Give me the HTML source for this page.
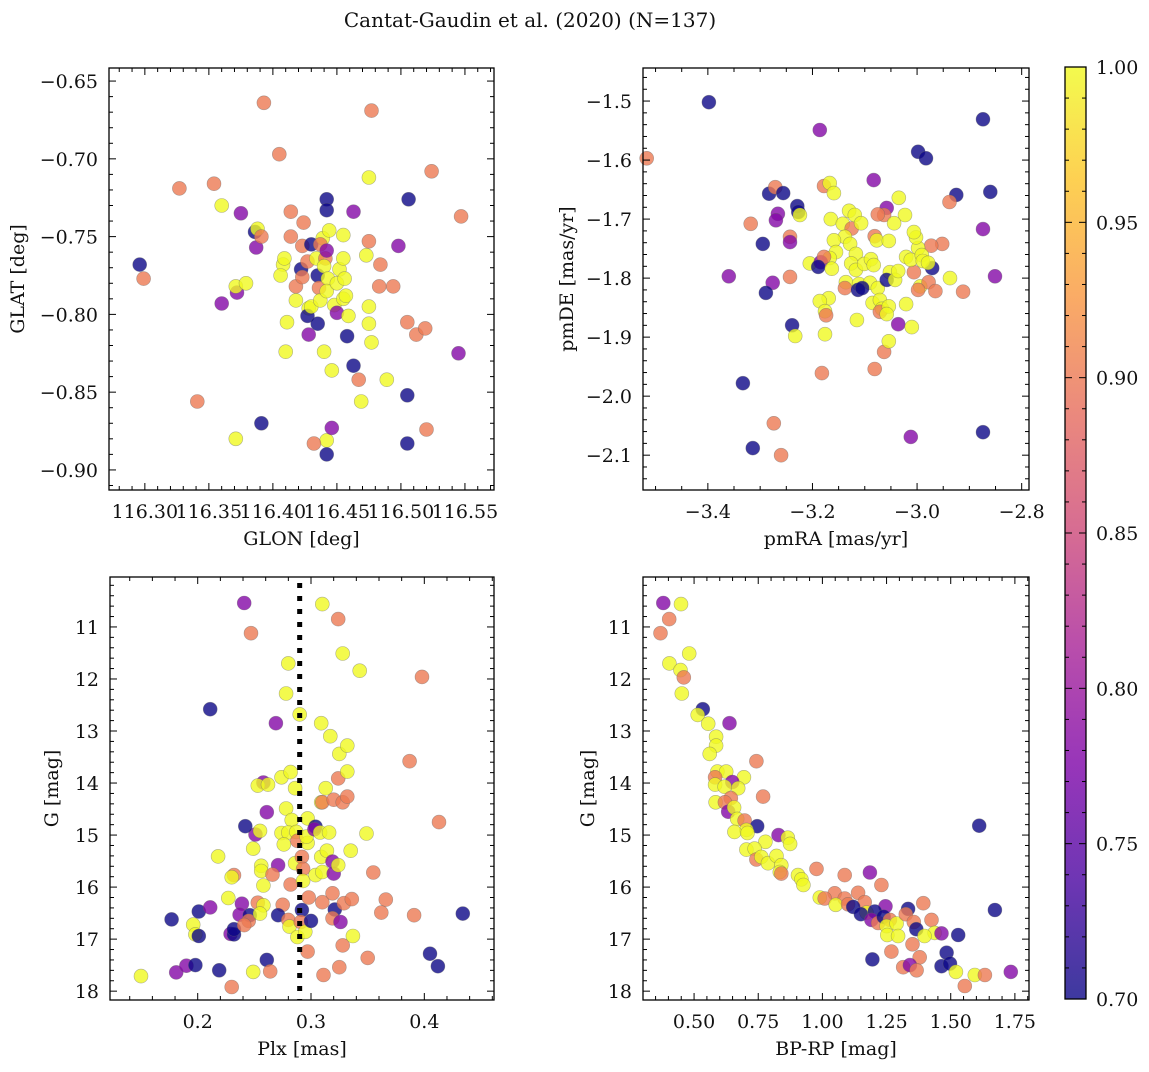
<!DOCTYPE html>
<html><head><meta charset="utf-8">
<style>
html,body{margin:0;padding:0;background:#fff;}
svg text{font-family:"DejaVu Serif","Liberation Serif",serif;fill:#111;}
</style></head>
<body>
<svg id="fig" xmlns="http://www.w3.org/2000/svg" width="1149" height="1067" viewBox="0 0 1149 1067">
<defs>
<linearGradient id="cbgrad" x1="0" y1="1" x2="0" y2="0">
<stop offset="0" stop-color="#0d0887"/><stop offset="0.13" stop-color="#4b03a1"/><stop offset="0.25" stop-color="#7d03a8"/><stop offset="0.38" stop-color="#a82296"/><stop offset="0.5" stop-color="#cc4778"/><stop offset="0.63" stop-color="#e66c5c"/><stop offset="0.75" stop-color="#f89540"/><stop offset="0.88" stop-color="#fdc527"/><stop offset="1" stop-color="#f0f921"/>
</linearGradient>
</defs>
<text x="530" y="27" font-size="20" text-anchor="middle">Cantat-Gaudin et al. (2020) (N=137)</text>
</svg>
<script>
// ---- Panel 1: GLON vs GLAT ----
const glon1 = [116.296,116.299,116.327,116.354,116.341,116.360,116.360,116.375,116.372,116.371,
116.379,116.371,116.391,116.393,116.405,116.386,116.388,116.387,116.391,116.408,
116.406,116.409,116.414,116.414,116.418,116.422,116.418,116.411,116.410,116.424,
116.423,116.430,116.427,116.423,116.428,116.427,116.430,116.428,116.435,116.435,
116.436,116.437,116.434,116.439,116.437,116.442,116.442,116.444,116.441,116.442,
116.440,116.443,116.442,116.440,116.442,116.432,116.442,116.446,116.446,116.448,
116.450,116.452,116.450,116.455,116.455,116.455,116.456,116.457,116.459,116.458,
116.463,116.463,116.467,116.469,116.473,116.475,116.475,116.475,116.477,116.475,
116.477,116.484,116.483,116.489,116.494,116.498,116.506,116.505,116.512,116.519,
116.505,116.505,116.520,116.524,116.545,116.547];
const glat1 = [-0.768,-0.777,-0.719,-0.716,-0.856,-0.730,-0.793,-0.735,-0.786,-0.782,
-0.780,-0.880,-0.870,-0.664,-0.697,-0.747,-0.745,-0.757,-0.750,-0.768,
-0.775,-0.764,-0.734,-0.750,-0.782,-0.771,-0.791,-0.805,-0.824,-0.741,
-0.756,-0.755,-0.766,-0.776,-0.796,-0.801,-0.795,-0.813,-0.806,-0.775,
-0.783,-0.791,-0.764,-0.751,-0.755,-0.726,-0.733,-0.746,-0.764,-0.759,
-0.769,-0.777,-0.785,-0.824,-0.881,-0.883,-0.890,-0.873,-0.836,-0.794,
-0.780,-0.771,-0.799,-0.790,-0.749,-0.764,-0.777,-0.788,-0.801,-0.814,
-0.833,-0.734,-0.842,-0.856,-0.762,-0.753,-0.795,-0.806,-0.818,-0.712,
-0.669,-0.768,-0.782,-0.842,-0.782,-0.756,-0.726,-0.805,-0.813,-0.809,
-0.852,-0.883,-0.874,-0.708,-0.825,-0.737];
const prob1 = [0.7,0.9,0.9,0.9,0.9,1,0.78,0.78,0.78,1,
1,1,0.7,0.9,0.9,0.7,1,0.78,0.9,1,
1,1,0.9,0.9,0.9,0.7,1,1,1,0.9,
0.9,0.7,0.9,0.9,1,0.7,1,0.78,0.7,0.7,
0.9,1,1,1,0.9,0.7,0.7,1,0.9,0.78,
1,1,1,1,1,0.9,0.7,0.78,1,1,
1,1,0.78,1,1,1,1,1,1,0.7,
0.7,0.78,0.9,1,1,0.9,1,1,1,1,
0.9,0.9,0.9,1,0.9,0.78,0.7,0.9,0.9,0.9,
0.7,0.7,0.9,0.9,0.78,0.9];

// ---- Panel 2: pmRA vs pmDE ----
const pmra2 = [-3.398,-3.517,-3.186,-2.874,-2.860,-2.998,-2.983,-3.083,-2.925,-3.283,
-3.271,-3.256,-3.318,-3.266,-3.270,-3.229,-3.227,-3.224,-3.295,-3.243,
-3.243,-3.360,-3.276,-3.289,-3.243,-3.239,-3.233,-3.333,-3.314,-3.274,
-3.260,-3.178,-3.167,-3.159,-3.165,-3.142,-3.125,-3.130,-3.119,-3.107,
-3.138,-3.128,-3.159,-3.155,-3.167,-3.205,-3.184,-3.178,-3.189,-3.163,
-3.117,-3.126,-3.117,-3.101,-3.088,-3.083,-3.136,-3.138,-3.111,-3.090,
-3.113,-3.105,-3.075,-3.169,-3.186,-3.176,-3.174,-3.115,-3.085,-3.071,
-3.067,-3.071,-3.054,-3.058,-3.021,-3.052,-3.058,-3.042,-3.036,-3.006,
-2.971,-2.994,-2.978,-2.998,-2.965,-2.912,-2.937,-2.952,-2.938,-2.973,
-2.998,-3.002,-3.021,-3.012,-2.991,-2.989,-2.979,-3.058,-3.035,-3.023,
-3.063,-3.075,-3.081,-3.077,-3.054,-3.044,-3.006,-2.874,-2.851,-2.874,
-3.081,-3.063,-3.054,-3.036,-3.010,-3.012,-3.182,-3.176];
const pmde2 = [-1.502,-1.597,-1.549,-1.531,-1.654,-1.586,-1.597,-1.634,-1.659,-1.657,
-1.646,-1.656,-1.708,-1.691,-1.702,-1.678,-1.688,-1.693,-1.742,-1.730,
-1.739,-1.797,-1.808,-1.825,-1.798,-1.880,-1.898,-1.978,-2.088,-2.046,
-2.100,-1.644,-1.639,-1.656,-1.700,-1.708,-1.716,-1.686,-1.693,-1.707,
-1.730,-1.742,-1.736,-1.756,-1.766,-1.775,-1.773,-1.764,-1.781,-1.784,
-1.759,-1.775,-1.786,-1.776,-1.768,-1.778,-1.807,-1.817,-1.810,-1.808,
-1.820,-1.817,-1.817,-1.834,-1.839,-1.856,-1.863,-1.871,-1.842,-1.837,
-1.852,-1.857,-1.848,-1.861,-1.844,-1.790,-1.803,-1.803,-1.788,-1.790,
-1.783,-1.814,-1.807,-1.820,-1.822,-1.823,-1.800,-1.742,-1.671,-1.745,
-1.749,-1.731,-1.764,-1.769,-1.761,-1.771,-1.774,-1.681,-1.664,-1.693,
-1.693,-1.692,-1.729,-1.736,-1.737,-1.707,-1.722,-1.717,-1.797,-2.061,
-1.954,-1.925,-1.907,-1.878,-1.883,-2.069,-1.961,-1.895];
const prob2 = [0.7,0.9,0.78,0.7,0.7,0.7,0.7,0.78,0.7,0.7,
0.9,0.7,0.9,0.78,0.78,0.7,0.7,1,0.7,0.9,
0.78,0.78,0.78,0.7,0.9,0.7,1,0.7,0.7,0.9,
0.9,0.9,1,1,1,1,0.9,1,1,1,
1,1,1,1,1,1,0.78,0.9,0.7,1,
1,1,1,1,1,1,1,0.9,1,1,
0.7,0.7,1,1,1,1,0.9,1,1,1,
1,0.9,1,1,1,1,0.7,1,1,0.9,
0.7,1,0.9,0.9,0.9,0.9,1,0.9,0.9,0.9,
1,1,1,1,1,1,1,0.78,1,1,
0.9,0.9,0.9,1,1,1,1,0.78,0.78,0.7,
0.9,0.9,1,0.78,1,0.78,0.9,1];

// ---- Panel 3: Plx vs G ----
const plx3 = [0.150,0.181,0.190,0.198,0.177,0.201,0.211,0.196,0.198,0.201,
0.218,0.211,0.241,0.247,0.219,0.227,0.230,0.232,0.230,0.229,
0.232,0.232,0.239,0.237,0.246,0.245,0.241,0.249,0.249,0.251,
0.255,0.242,0.253,0.258,0.255,0.258,0.253,0.262,0.261,0.256,
0.256,0.258,0.261,0.264,0.269,0.271,0.266,0.275,0.271,0.274,
0.282,0.280,0.278,0.286,0.278,0.283,0.274,0.280,0.287,0.276,
0.288,0.282,0.286,0.280,0.281,0.288,0.290,0.292,0.293,0.293,
0.292,0.291,0.295,0.297,0.297,0.296,0.300,0.298,0.297,0.304,
0.303,0.304,0.310,0.309,0.309,0.310,0.308,0.309,0.310,0.310,
0.311,0.317,0.313,0.316,0.314,0.319,0.320,0.324,0.319,0.320,
0.328,0.332,0.324,0.325,0.332,0.332,0.324,0.328,0.343,0.321,
0.319,0.326,0.329,0.336,0.335,0.349,0.328,0.337,0.325,0.350,
0.355,0.366,0.362,0.391,0.387,0.398,0.413,0.434,0.405,0.412];
const g3 = [17.71,17.64,17.51,17.50,16.62,16.47,16.39,16.72,16.91,16.94,
15.41,12.58,10.54,11.12,17.60,16.21,17.92,15.77,15.81,16.90,
16.91,16.81,16.32,16.53,16.54,16.65,16.73,17.63,15.26,14.99,
14.92,14.83,16.30,16.35,16.51,13.99,14.05,14.03,14.56,15.59,
15.69,15.97,17.40,17.62,12.85,15.58,15.76,16.34,16.54,13.89,
13.79,11.70,12.28,14.10,14.49,14.71,14.96,14.95,14.94,15.18,
15.11,15.95,15.54,16.63,16.76,16.96,12.68,15.42,15.65,15.88,
16.44,16.67,16.86,14.68,15.15,15.03,16.65,16.20,17.24,14.84,
14.89,15.77,10.56,12.85,14.37,14.37,14.95,15.42,15.71,16.29,
17.69,13.10,14.10,14.95,15.30,15.51,15.74,15.58,16.12,14.32,
14.37,14.26,13.91,13.44,13.28,13.78,10.85,11.51,11.84,16.43,
16.60,16.67,16.31,16.23,15.30,14.97,17.12,16.94,17.54,17.36,
15.72,16.24,16.49,16.54,13.58,11.96,14.75,16.51,17.28,17.52];
const prob3 = [1,0.78,0.78,0.7,0.7,0.7,0.78,1,1,0.7,
1,0.7,0.78,0.9,0.7,1,0.9,0.9,1,0.78,
0.7,0.7,0.78,0.78,0.7,0.9,0.9,1,1,0.78,
1,0.7,0.9,1,1,0.78,1,1,0.78,1,
1,1,0.7,0.9,0.78,0.78,0.9,0.9,0.7,1,
1,1,1,1,1,1,1,1,1,1,
0.9,0.9,1,0.9,1,1,1,0.9,0.9,1,
0.7,0.9,1,1,1,1,0.7,0.9,0.9,0.7,
0.78,1,1,1,1,0.9,1,1,1,0.9,
0.9,1,1,1,1,0.78,0.78,1,0.9,0.9,
0.9,0.9,0.9,1,1,1,0.9,1,1,0.7,
0.9,0.78,0.9,0.9,1,1,0.9,1,0.9,0.9,
0.9,0.9,0.9,0.9,0.9,0.9,0.9,0.7,0.7,0.7];
const plxLine = 0.29;

// ---- Panel 4: BP-RP vs G ----
const bprp4 = [0.380,0.449,0.403,0.369,0.481,0.404,0.447,0.460,0.452,0.534,
0.514,0.555,0.638,0.586,0.586,0.561,0.743,0.591,0.625,0.582,
0.694,0.649,0.582,0.619,0.672,0.769,0.643,0.584,0.620,0.633,
0.656,0.668,0.697,0.746,0.704,0.657,0.708,0.829,0.865,0.874,
0.778,0.704,0.736,0.743,0.762,0.788,0.821,0.840,0.834,0.840,
0.905,0.918,0.926,0.977,1.087,1.185,1.230,1.139,1.048,0.990,
1.009,1.087,1.165,1.052,1.100,1.120,1.393,1.246,1.172,1.150,
1.204,1.191,1.217,1.239,1.263,1.250,1.289,1.253,1.295,1.334,
1.325,1.356,1.366,1.425,1.437,1.398,1.464,1.529,1.672,1.611,
1.351,1.269,1.379,1.195,1.484,1.464,1.497,1.315,1.341,1.367,
1.520,1.594,1.633,1.555,1.734];
const g4 = [10.54,10.56,10.85,11.12,11.51,11.70,11.83,11.97,12.28,12.58,
12.69,12.86,12.85,13.11,13.28,13.44,13.58,13.78,13.78,13.89,
13.89,13.98,14.03,14.07,14.10,14.26,14.29,14.37,14.37,14.55,
14.47,14.69,14.72,14.83,14.90,14.94,14.96,15.00,15.05,15.17,
15.13,15.28,15.26,15.47,15.42,15.54,15.40,15.58,15.71,15.74,
15.77,15.85,15.96,15.65,15.77,15.72,15.96,16.11,16.12,16.20,
16.22,16.22,16.29,16.34,16.33,16.38,16.31,16.37,16.49,16.52,
16.47,16.63,16.69,16.57,16.63,16.75,16.70,16.92,16.94,16.42,
16.52,16.67,16.81,16.63,16.88,16.94,16.89,16.92,16.44,14.82,
17.10,17.24,17.35,17.39,17.26,17.52,17.47,17.54,17.50,17.60,
17.63,17.69,17.69,17.90,17.63];
const prob4 = [0.78,1,0.9,0.9,1,1,1,0.9,1,0.7,
1,1,0.78,1,1,1,0.9,1,1,0.9,
1,0.78,1,1,1,0.9,0.9,1,0.9,0.78,
1,1,0.9,0.7,1,1,1,0.78,1,1,
1,1,1,0.9,1,1,1,1,1,0.9,
1,1,1,0.9,0.9,0.78,0.9,0.9,0.9,1,
0.9,0.9,0.9,1,0.9,0.7,0.9,0.78,1,0.7,
0.7,0.78,0.9,0.7,0.9,1,1,1,1,0.7,
0.9,0.9,0.7,0.9,1,1,0.78,0.7,0.7,0.7,
0.9,0.9,0.9,0.7,0.7,0.7,0.7,0.9,0.78,0.9,
1,1,0.9,0.9,0.78];

// ---- Colorbar ----
const cbMin = 0.70, cbMax = 1.00;
const cbTicks = [0.70,0.75,0.80,0.85,0.90,0.95,1.00];

const NS = "http://www.w3.org/2000/svg";
const svg = document.getElementById('fig');
function el(tag, attrs, parent){
  const e = document.createElementNS(NS, tag);
  for (const k in attrs) e.setAttribute(k, attrs[k]);
  (parent||svg).appendChild(e);
  return e;
}
const stops = [[0,[13,8,135]],[0.13,[75,3,161]],[0.25,[125,3,168]],[0.38,[168,34,150]],[0.5,[204,71,120]],[0.63,[230,108,92]],[0.75,[248,149,64]],[0.88,[253,197,39]],[1,[240,249,33]]];
function plasma(v){
  let t = (v-cbMin)/(cbMax-cbMin); t=Math.max(0,Math.min(1,t));
  for (let i=1;i<stops.length;i++){
    if (t<=stops[i][0]){
      const a=stops[i-1], b=stops[i], f=(t-a[0])/(b[0]-a[0]);
      const c=a[1].map((x,j)=>Math.round(x+(b[1][j]-x)*f));
      return `rgb(${c[0]},${c[1]},${c[2]})`;
    }
  }
  return 'rgb(240,249,33)';
}
function fmt(v, dec){ const s = Math.abs(v).toFixed(dec); return (v < -1e-9 ? '\u2212' : '') + s; }

const FS = 19;
function panel(cfg){
  const g = el('g', {});
  
  
  const sx = v => cfg.x0 + (v-cfg.xmin)/(cfg.xmax-cfg.xmin)*(cfg.x1-cfg.x0);
  const sy = cfg.invert
    ? v => cfg.y0 + (v-cfg.ymin)/(cfg.ymax-cfg.ymin)*(cfg.y1-cfg.y0)
    : v => cfg.y1 - (v-cfg.ymin)/(cfg.ymax-cfg.ymin)*(cfg.y1-cfg.y0);
  const pts = el('g', {}, g);
  
  
  for (let i=0;i<cfg.xs.length;i++){
    const c = el('circle', {cx:sx(cfg.xs[i]).toFixed(1), cy:sy(cfg.ys[i]).toFixed(1), r:7, fill:plasma(cfg.ps[i]), 'fill-opacity':0.8, stroke:'#666', 'stroke-opacity':0.5, 'stroke-width':0.6}, pts);
    
    
  }
  if (cfg.vline !== undefined){
    const l = el('line', {x1:sx(cfg.vline), x2:sx(cfg.vline), y1:cfg.y0+6, y2:cfg.y1, stroke:'#000', 'stroke-width':5, 'stroke-dasharray':'5,8'}, g);
    
    
  }
  const frame = el('rect', {x:cfg.x0, y:cfg.y0, width:cfg.x1-cfg.x0, height:cfg.y1-cfg.y0, fill:'none', stroke:'#000', 'stroke-width':1.3}, g);
  
  
  const tk = el('g', {stroke:'#000', 'stroke-width':1}, g);
  
  
  const eps=1e-9;
  const xs0 = Math.ceil(cfg.xmin/cfg.xminor - eps);
  for (let k=xs0; k*cfg.xminor<=cfg.xmax+eps; k++){
    const v=k*cfg.xminor, X=sx(v);
    const major = Math.abs(v/cfg.xmajor - Math.round(v/cfg.xmajor))<1e-6;
    const L = major?7:4;
    el('line',{x1:X,x2:X,y1:cfg.y1,y2:cfg.y1-L},tk);
    el('line',{x1:X,x2:X,y1:cfg.y0,y2:cfg.y0+L},tk);
    if (major){
      const t = el('text',{x:X,y:cfg.y1+28,'font-size':FS,'text-anchor':'middle',stroke:'none'},g);
      t.textContent = fmt(v,cfg.xdec);
      
      
    }
  }
  const ys0 = Math.ceil(cfg.ymin/cfg.yminor - eps);
  for (let k=ys0; k*cfg.yminor<=cfg.ymax+eps; k++){
    const v=k*cfg.yminor, Y=sy(v);
    const major = Math.abs(v/cfg.ymajor - Math.round(v/cfg.ymajor))<1e-6;
    const L = major?7:4;
    el('line',{x1:cfg.x0,x2:cfg.x0+L,y1:Y,y2:Y},tk);
    el('line',{x1:cfg.x1,x2:cfg.x1-L,y1:Y,y2:Y},tk);
    if (major){
      const t = el('text',{x:cfg.x0-11,y:Y+7,'font-size':FS,'text-anchor':'end',stroke:'none'},g);
      t.textContent = fmt(v,cfg.ydec);
      
      
    }
  }
  const xt = el('text',{x:(cfg.x0+cfg.x1)/2,y:cfg.y1+55,'font-size':FS,'text-anchor':'middle'},g);
  xt.textContent = cfg.xlabel;
  
  
  const yc=(cfg.y0+cfg.y1)/2;
  const yt = el('text',{x:cfg.ylx,y:yc,'font-size':FS,'text-anchor':'middle',transform:`rotate(-90 ${cfg.ylx} ${yc})`,'dominant-baseline':'central'},g);
  yt.textContent = cfg.ylabel;
  
  
}

panel({name:'glon-glat-panel', x0:109,x1:494,y0:68,y1:490, xmin:116.272,xmax:116.5727, ymin:-0.9129,ymax:-0.6416,
  xmajor:0.05,xminor:0.01,xdec:2, ymajor:0.05,yminor:0.01,ydec:2, xs:glon1,ys:glat1,ps:prob1,
  xlabel:'GLON [deg]', ylabel:'GLAT [deg]', ylx:18});
panel({name:'pmra-pmde-panel', x0:643,x1:1029,y0:68,y1:490, xmin:-3.524,xmax:-2.786, ymin:-2.159,ymax:-1.444,
  xmajor:0.2,xminor:0.05,xdec:1, ymajor:0.1,yminor:0.02,ydec:1, xs:pmra2,ys:pmde2,ps:prob2,
  xlabel:'pmRA [mas/yr]', ylabel:'pmDE [mas/yr]', ylx:567});
panel({name:'plx-g-panel', x0:110,x1:494,y0:577,y1:1000, xmin:0.1226,xmax:0.4615, ymin:10.04,ymax:18.17, invert:true,
  xmajor:0.1,xminor:0.02,xdec:1, ymajor:1,yminor:0.2,ydec:0, xs:plx3,ys:g3,ps:prob3, vline:plxLine,
  xlabel:'Plx [mas]', ylabel:'G [mag]', ylx:52});
panel({name:'bprp-g-panel', x0:643,x1:1029,y0:577,y1:1000, xmin:0.301,xmax:1.805, ymin:10.04,ymax:18.17, invert:true,
  xmajor:0.25,xminor:0.05,xdec:2, ymajor:1,yminor:0.2,ydec:0, xs:bprp4,ys:g4,ps:prob4,
  xlabel:'BP-RP [mag]', ylabel:'G [mag]', ylx:588});

(function(){
  const x0=1065,x1=1086,y0=67,y1=999;
  const g = el('g',{});
  
  
  el('rect',{x:x0,y:y0,width:x1-x0,height:y1-y0,fill:'url(#cbgrad)','fill-opacity':0.8},g);
  el('rect',{x:x0,y:y0,width:x1-x0,height:y1-y0,fill:'none',stroke:'#000','stroke-width':1.3},g);
  const sy = v => y1 - (v-cbMin)/(cbMax-cbMin)*(y1-y0);
  for (let k=70;k<=100;k++){
    const v=k/100, Y=sy(v), major=(k%5===0), L=major?7:4;
    el('line',{x1:x1,x2:x1-L,y1:Y,y2:Y,stroke:'#000','stroke-width':1},g);
    el('line',{x1:x0,x2:x0+L,y1:Y,y2:Y,stroke:'#000','stroke-width':1},g);
  }
  cbTicks.forEach(v=>{
    const t = el('text',{x:x1+10,y:sy(v)+7,'font-size':FS},g);
    t.textContent = v.toFixed(2);
    
    
  });
})();
</script>
</body></html>
